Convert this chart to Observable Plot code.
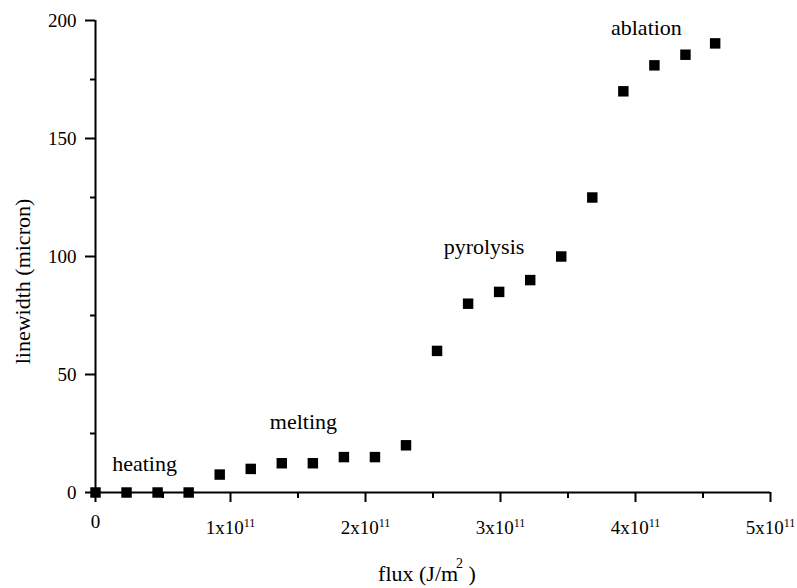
<!DOCTYPE html>
<html><head><meta charset="utf-8">
<script src="https://cdn.jsdelivr.net/npm/d3@7"></script>
<script src="https://cdn.jsdelivr.net/npm/@observablehq/plot@0.6"></script>
<style>
body{margin:0;background:#fff}
</style>
</head><body><div id="chart"></div>
<script>
const flux = [0, 0.23e11, 0.46e11, 0.69e11, 0.92e11, 1.15e11, 1.38e11, 1.61e11, 1.84e11, 2.07e11, 2.30e11,
              2.53e11, 2.76e11, 2.99e11, 3.22e11, 3.45e11, 3.68e11, 3.91e11, 4.14e11, 4.37e11, 4.59e11];
const linewidth = [0, 0, 0, 0, 7.6, 10, 12.4, 12.4, 15, 15, 20,
                   60, 80, 85, 90, 100, 125, 170, 181, 185.5, 190.3];
const xMajorTicks = [0, 1e11, 2e11, 3e11, 4e11, 5e11];
const xMinorTicks = [0.5e11, 1.5e11, 2.5e11, 3.5e11, 4.5e11];
const yMajorTicks = [0, 50, 100, 150, 200];
const yMinorTicks = [25, 75, 125, 175];
const stageLabels = ["heating", "melting", "pyrolysis", "ablation"];
const stageX = [0.363e11, 1.54e11, 2.878e11, 4.081e11];
const stageY = [12.1, 29.9, 104.1, 197.0];
const xTitle = "flux (J/m2 )";
const yTitle = "linewidth (micron)";

const points = flux.map((f, i) => ({flux: f, linewidth: linewidth[i]}));
const stages = stageLabels.map((t, i) => ({text: t, x: stageX[i], y: stageY[i]}));

const FONT = "'Liberation Serif', 'Times New Roman', serif";
const chart = Plot.plot({
  width: 797,
  height: 588,
  marginLeft: 95,
  marginRight: 27,
  marginTop: 20,
  marginBottom: 96,
  style: {fontFamily: FONT, fontSize: "19px", color: "#000", background: "#fff"},
  x: {domain: [0, 5e11]},
  y: {domain: [0, 200]},
  marks: [
    Plot.axisY({ticks: yMajorTicks, tickSize: 10, tickPadding: 9, strokeWidth: 2, label: null, tickFormat: d => String(d)}),
    Plot.axisY({ticks: yMinorTicks, tickSize: 5, strokeWidth: 2, label: null, tickFormat: () => ""}),
    Plot.axisX({ticks: xMajorTicks, tickSize: 10, tickPadding: 12, strokeWidth: 2, label: null,
      tickFormat: d => d === 0 ? "0" : `${Math.round(d / 1e11)}x10`}),
    Plot.axisX({ticks: xMinorTicks, tickSize: 6, strokeWidth: 2, label: null, tickFormat: () => ""}),
    Plot.ruleX([0], {stroke: "#000", strokeWidth: 2}),
    Plot.ruleY([0], {stroke: "#000", strokeWidth: 2}),
    Plot.dot(points, {x: "flux", y: "linewidth", symbol: "square", r: 5.9, fill: "#000", stroke: null}),
    Plot.text(stages, {x: "x", y: "y", text: "text", fontSize: 22, fill: "#000"}),
    Plot.text([yTitle], {frameAnchor: "left", textAnchor: "middle", lineAnchor: "middle", rotate: -90, dx: -73, dy: 25, fontSize: 22, fill: "#000"}),
    Plot.text([xTitle], {frameAnchor: "bottom", textAnchor: "middle", lineAnchor: "middle", dx: -6, dy: 81, fontSize: 22, fill: "#000"})
  ]
});
document.getElementById("chart").appendChild(chart);

// superscripts on x tick labels
d3.select(chart).selectAll('g[aria-label="x-axis tick label"] text').each(function() {
  const t = d3.select(this);
  const s = t.text();
  if (s.endsWith("x10")) {
    t.attr("transform", t.attr("transform") + " translate(0,6)");
    t.append("tspan").attr("dy", "-0.55em").attr("font-size", "12px").text("11");
  }
});
// superscript in x title
d3.select(chart).selectAll("text").filter(function() { return this.textContent === xTitle; }).each(function() {
  const t = d3.select(this);
  t.text("flux (J/m");
  t.append("tspan").attr("dx", "-2").attr("dy", "-13").attr("font-size", "14px").text("2");
  t.append("tspan").attr("dy", "13").text(" )");
});
</script>
</body></html>
